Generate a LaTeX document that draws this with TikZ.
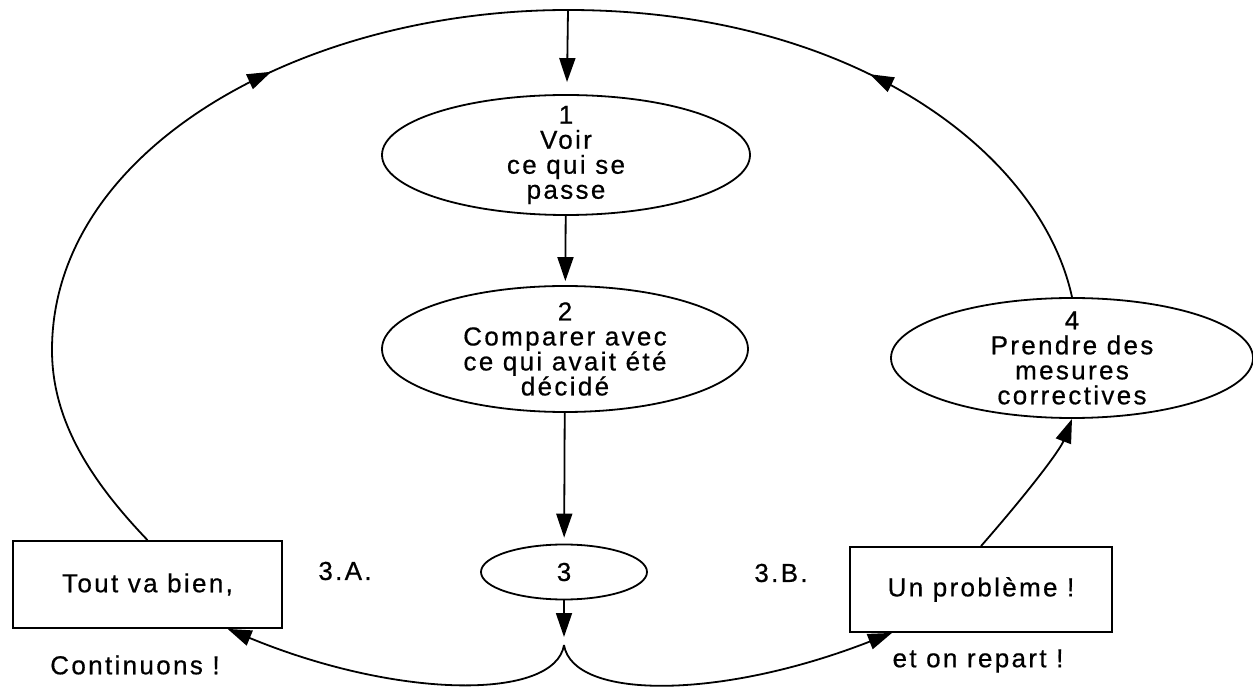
\documentclass[tikz,border=0pt]{standalone}
\usepackage{fontspec}
\setmainfont{Liberation Sans}[LetterSpace=9,FakeBold=0.6]
\usetikzlibrary{arrows.meta,shapes.geometric,decorations.markings}

\begin{document}
\begin{tikzpicture}[x=0.5pt,y=-0.5pt,>={Triangle[length=12pt,width=8pt]},line width=0.9pt,every node/.style={font=\fontsize{13}{12.5}\selectfont}]
\tikzset{bulle/.style={draw,ellipse,inner xsep=0pt,inner ysep=-4pt,align=center},
  cadre/.style={draw,rectangle,inner sep=0pt},
  flechemilieu/.style={postaction={decorate},decoration={markings,mark=at position #1 with {\arrow{>}}}}}
\useasboundingbox (0,0) rectangle (1253,689);
\node[bulle,minimum width=184pt,minimum height=60pt] (e1) at (566,155) {1\\Voir\\ce qui se\\passe};
\node[bulle,minimum width=183pt,minimum height=63pt] (e2) at (565,349) {2\\Comparer avec\\ce qui avait été\\décidé};
\node[bulle,minimum width=83pt,minimum height=27.5pt] (e3) at (564,572) {3};
\node[bulle,minimum width=181pt,minimum height=60pt] (e4) at (1072,358) {4\\Prendre des\\mesures\\correctives};
\node[cadre,minimum width=134.5pt,minimum height=43.5pt] (ok) at (147.5,584.5) {Tout va bien,};
\node[cadre,minimum width=131pt,minimum height=42.5pt] (pb) at (981,589.5) {Un problème !};
\node (la) at (345,571) {3.A.};
\node (lb) at (781,573) {3.B.};
\node (lc) at (135,665) {Continuons !};
\node (ld) at (978,661) {et on repart !};
\coordinate (haut) at (568,10);
\coordinate (creux) at (564,645);
\draw[->,shorten >=6pt] (haut) -- (e1);
\draw[->,shorten >=2pt] (e1) -- (e2);
\draw[->,shorten >=3pt] (e2) -- (e3);
\draw[->,shorten >=4pt] (e3) -- (creux);
\draw[flechemilieu=0.66] (ok.north) .. controls (90,480) and (52,420) .. (52,350) .. controls (52,150) and (300,10) .. (haut);
\draw[flechemilieu=0.5] (e4.north) .. controls (1040,150) and (850,10) .. (haut);
\draw[->] (creux) .. controls (555,700) and (400,700) .. (ok.-29);
\draw[->] (creux) .. controls (573,700) and (720,700) .. (pb.206);
\draw[->] (pb.north) .. controls (1030,490) and (1060,450) .. (e4.south);
\end{tikzpicture}
\end{document}
